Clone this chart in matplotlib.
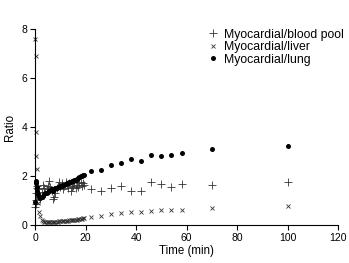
import matplotlib
matplotlib.use("Agg")
import matplotlib.pyplot as plt

plt.rcParams["font.family"] = ["Liberation Sans", "DejaVu Sans"]

# sampling times (min)
time_min = [0, 0.1, 0.2, 0.3, 0.5, 0.75, 1.0, 1.5, 2.0, 2.5, 3.0, 3.5, 4.0, 4.5,
            5.0, 5.5, 6.0, 6.5, 7.0, 7.5, 8.0, 8.5, 9.0, 9.5, 10.0, 10.5, 11.0,
            11.5, 12.0, 12.5, 13.0, 13.5, 14.0, 14.5, 15.0, 15.5, 16.0, 16.5,
            17.0, 17.5, 18.0, 18.5, 19.0, 19.5,
            22, 26, 30, 34, 38, 42, 46, 50, 54, 58, 70, 100]

blood_pool = [0.75, 0.85, 1.0, 1.3, 1.5, 1.6, 1.45, 1.2, 1.05, 1.35,
              1.65, 1.5, 1.3, 1.45, 1.6, 1.8, 1.55, 1.4, 1.05, 1.15,
              1.3, 1.5, 1.6, 1.75, 1.55, 1.7, 1.45, 1.6, 1.75, 1.65,
              1.5, 1.7, 1.4, 1.55, 1.6, 1.75, 1.5, 1.65, 1.55, 1.7,
              1.75, 1.6, 1.7, 1.65,
              1.47, 1.39, 1.5, 1.59, 1.39, 1.39, 1.77, 1.66, 1.56, 1.66, 1.62, 1.77]

liver = [7.6, 6.9, 3.8, 2.8, 2.3, 1.5, 0.9, 0.55, 0.35, 0.22,
         0.16, 0.13, 0.12, 0.12, 0.11, 0.12, 0.12, 0.12, 0.13, 0.13,
         0.13, 0.14, 0.14, 0.15, 0.15, 0.16, 0.16, 0.17, 0.17, 0.18,
         0.18, 0.19, 0.19, 0.2, 0.2, 0.21, 0.21, 0.22, 0.23, 0.24,
         0.25, 0.26, 0.27, 0.28,
         0.34, 0.37, 0.45, 0.5, 0.53, 0.55, 0.58, 0.6, 0.6, 0.63, 0.68, 0.77]

lung = [0.95, 1.75, 1.8, 1.7, 1.55, 1.4, 1.25, 1.15, 1.1, 1.15,
        1.2, 1.25, 1.3, 1.3, 1.35, 1.38, 1.42, 1.45, 1.4, 1.45,
        1.5, 1.5, 1.55, 1.55, 1.6, 1.6, 1.65, 1.65, 1.67, 1.7,
        1.72, 1.75, 1.77, 1.8, 1.8, 1.83, 1.85, 1.87, 1.92, 1.97,
        2.0, 1.98, 2.03, 2.06,
        2.22, 2.23, 2.46, 2.53, 2.69, 2.62, 2.86, 2.82, 2.86, 2.93, 3.09, 3.21]

fig = plt.figure(figsize=(3.49, 2.63), dpi=100)
ax = fig.add_axes([0.101, 0.1445, 0.8675, 0.7452])

ax.plot(time_min, blood_pool, linestyle="none", marker="+", ms=5.5, mew=0.6,
        color="#333333", label="Myocardial/blood pool", clip_on=False)
ax.plot(time_min, liver, linestyle="none", marker="x", ms=3.3, mew=0.6,
        color="#333333", label="Myocardial/liver", clip_on=False)
ax.plot(time_min, lung, linestyle="none", marker="o", ms=3.6, mew=0,
        color="black", label="Myocardial/lung", clip_on=False)

ax.set_xlim(0, 120)
ax.set_ylim(0, 8)
ax.set_xticks([0, 20, 40, 60, 80, 100, 120])
ax.set_yticks([0, 2, 4, 6, 8])
for side in ("top", "right"):
    ax.spines[side].set_visible(False)
for side in ("left", "bottom"):
    ax.spines[side].set_linewidth(0.8)
ax.tick_params(direction="out", length=3.5, width=0.8, labelsize=7.5, pad=2)
ax.set_xlabel("Time (min)", fontsize=8.3, labelpad=2)
ax.set_ylabel("Ratio", fontsize=8.3, labelpad=4)

ax.legend(loc="upper right", bbox_to_anchor=(1.045, 1.04), frameon=False,
          fontsize=8.8, handlelength=0.8, handletextpad=0.5, labelspacing=0.05,
          borderaxespad=0.2)

fig.savefig("out.png", dpi=100)
